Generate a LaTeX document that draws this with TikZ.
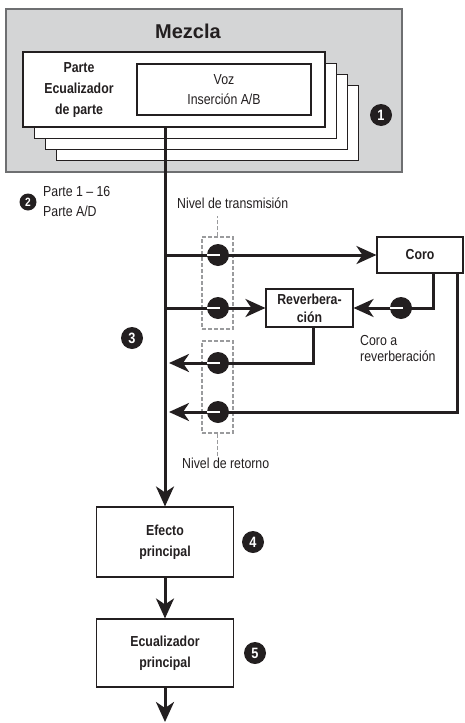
\documentclass[tikz,border=0pt]{standalone}
\usepackage{fontspec}
\setmainfont{Liberation Sans}[FakeStretch=0.85]
\newfontfamily\mixfont{Liberation Sans}
\usetikzlibrary{arrows.meta, positioning, calc}
\definecolor{cInk}{HTML}{231F20}
\definecolor{cMix}{HTML}{D4D5D6}
\definecolor{cMixD}{HTML}{6E6F71}
\definecolor{cDash}{HTML}{9A9B9D}
\tikzset{
  box/.style={rectangle, draw=cInk, fill=white, line width=1.1pt, align=center, inner sep=0pt,
              font=\fontsize{14.5}{21}\selectfont\bfseries, text=cInk},
  card/.style={box, minimum width=302pt, minimum height=75pt},
  insbox/.style={box, font=\fontsize{14.5}{20}\selectfont, minimum width=174pt, minimum height=51pt},
  mix/.style={rectangle, draw=cMixD, fill=cMix, line width=1.1pt},
  badge/.style={circle, fill=cInk, text=white, inner sep=0pt, minimum size=22pt,
                font=\fontsize{15}{15}\selectfont\bfseries},
  knob/.style={circle, fill=cInk, inner sep=0pt, minimum size=22pt,
               path picture={\draw[white, line width=2.6pt]
                 ([xshift=1.5pt]path picture bounding box.center) -- (path picture bounding box.west);}},
  lvl/.style={rectangle, draw=cDash, dash pattern=on 4pt off 2pt, line width=1.5pt,
              minimum width=31pt, minimum height=92pt, inner sep=0pt},
  lead/.style={draw=cDash, line width=1.5pt, dash pattern=on 4pt off 2pt},
  sig/.style={-{Stealth[length=20pt, width=18pt, inset=6pt]}, line width=3pt, draw=cInk},
  lab/.style={font=\fontsize{14.5}{20}\selectfont, text=cInk, align=left, inner sep=0pt},
}

\begin{document}
\begin{tikzpicture}[x=1pt, y=-1pt]
  \useasboundingbox (0,0) rectangle (464,723);

  % ---- mixing block with stacked parts
  \node[mix, minimum width=396pt, minimum height=163pt] (mix) at (204,90.5) {};
  \node[font=\mixfont\fontsize{20}{24}\selectfont\bfseries, text=cInk, inner sep=0pt] (mixlbl) at (188,31) {Mezcla};
  \foreach \k in {3,2,1,0}
    \node[card] (card\k) at (174+11.3*\k, 89.5+11.2*\k) {};
  \node[box, draw=none, fill=none] (partlbl) at (79,90) {Parte\\ Ecualizador\\ de parte};
  \node[insbox] (ins) at (224,89.5) {Voz\\ Inserción A/B};

  % ---- effect blocks
  \node[box, minimum width=86pt, minimum height=36pt] (coro) at (420,255) {Coro};
  \node[box, font=\fontsize{14.5}{18}\selectfont\bfseries, minimum width=87pt, minimum height=38pt] (rev) at (309.5,308) {Reverbera-\\ción};
  \node[box, minimum width=137pt, minimum height=70pt] (efx) at (165,542) {Efecto\\ principal};
  \node[box, minimum width=137pt, minimum height=68pt] (meq) at (165,653) {Ecualizador\\ principal};
  \coordinate (out) at (165,722);
  \coordinate (r3) at (169,363);
  \coordinate (r4) at (169,412);

  % ---- send / return level groups
  \node[lvl] (sendbox) at (217.5,283) {};
  \node[lvl] (retbox) at (217.5,387) {};
  \node[lab, anchor=west] (sendlbl) at (177,203) {Nivel de transmisión};
  \node[lab, anchor=west] (retlbl) at (182,463) {Nivel de retorno};
  \draw[lead] (sendbox.north) -- ++(0,-20);
  \draw[lead] (retbox.south) -- ++(0,22);

  % ---- signal flow
  \draw[sig] (card0.south -| efx.north) -- (efx.north);
  \draw[sig] (coro.west -| efx.north) -- (coro.west);
  \draw[sig] (rev.west -| efx.north) -- (rev.west);
  \draw[sig] ([xshift=13pt]coro.south) |- (rev.east);
  \draw[sig] ([xshift=3.5pt]rev.south) |- (r3);
  \draw[sig] ([xshift=37pt]coro.south) |- (r4);
  \draw[sig] (efx) -- (meq);
  \draw[sig] (meq) -- (out);

  % ---- level knobs
  \foreach \y [count=\i] in {255,308,363,412}
    \node[knob] (k\i) at (218,\y) {};
  \node[knob] (kc) at (401,308) {};

  % ---- notes and numbers
  \node[lab, anchor=north west, font=\fontsize{14.5}{16}\selectfont] (xlbl) at (360,335) {Coro a\\ reverberación};
  \node[lab, anchor=west] (partes) at (43,202) {Parte 1 – 16\\ Parte A/D};
  \node[badge] (n1) at (381,115) {1};
  \node[badge, minimum size=17pt, font=\fontsize{12}{12}\selectfont\bfseries] (n2) at (28,202) {2};
  \node[badge] (n3) at (132,338) {3};
  \node[badge] (n4) at (253,542) {4};
  \node[badge] (n5) at (255,653) {5};
\end{tikzpicture}
\end{document}
